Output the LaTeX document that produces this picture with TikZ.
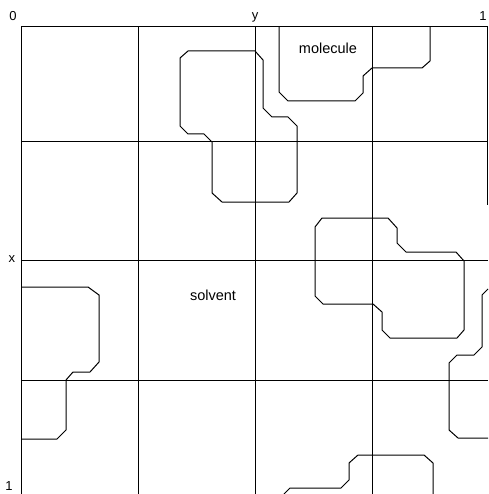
\documentclass[tikz,border=0pt]{standalone}
\usepackage{fontspec}
\setmainfont{Liberation Sans}
\begin{document}
\begin{tikzpicture}[x=1pt, y=-1pt, line width=1pt,
  every node/.style={font=\fontsize{14.5}{16}\selectfont, inner sep=0pt},
  axislabel/.style={font=\fontsize{13}{15}\selectfont, anchor=base}]
  \useasboundingbox (0,0) rectangle (488,494);
  % grid of cells
  \foreach \gx in {21,138,255,372} \draw (\gx,27) -- (\gx,494);
  \draw (487,27) -- (487,205);
  \foreach \gy in {27,142,260,380} \draw (21,\gy) -- (488,\gy);
  % axis labels
  \node[axislabel] (zero) at (13,21) {0};
  \node[axislabel] (ylab) at (255,20) {y};
  \node[axislabel] (onetop) at (483,21) {1};
  \node[axislabel] (xlab) at (12,262) {x};
  \node[axislabel] (onebot) at (9,490) {1};
  % molecule outlines
  \draw (180,58) -- (188,51) -- (255,51) -- (263,60) -- (263,108) -- (272,117)
    -- (288,117) -- (297,126) -- (297,193) -- (289,202) -- (222,202) -- (212,193)
    -- (212,142) -- (204,134) -- (188,134) -- (180,126) -- cycle;
  \draw (279,27) -- (279,92) -- (288,101) -- (355,101) -- (363,93) -- (363,76)
    -- (372,68) -- (422,68) -- (430,61) -- (430,27);
  \draw (284,494) -- (290,488) -- (341,488) -- (349,480) -- (349,463) -- (358,455)
    -- (424,455) -- (433,463) -- (433,494);
  \draw (315,227) -- (322,218) -- (388,218) -- (397,228) -- (397,243) -- (406,252)
    -- (456,252) -- (464,261) -- (464,330) -- (457,338) -- (390,338) -- (382,330)
    -- (382,312) -- (373,304) -- (323,304) -- (315,296) -- cycle;
  \draw (488,289) -- (482,295) -- (482,347) -- (474,355) -- (457,355) -- (449,363)
    -- (449,430) -- (458,438) -- (488,438);
  \draw (21,287) -- (88,287) -- (99,295) -- (99,362) -- (90,372) -- (73,372)
    -- (66,380) -- (66,430) -- (57,439) -- (21,439);
  % region labels
  \node[anchor=base] (molecule) at (328,54) {molecule};
  \node[anchor=base] (solvent) at (213,300) {solvent};
\end{tikzpicture}
\end{document}
